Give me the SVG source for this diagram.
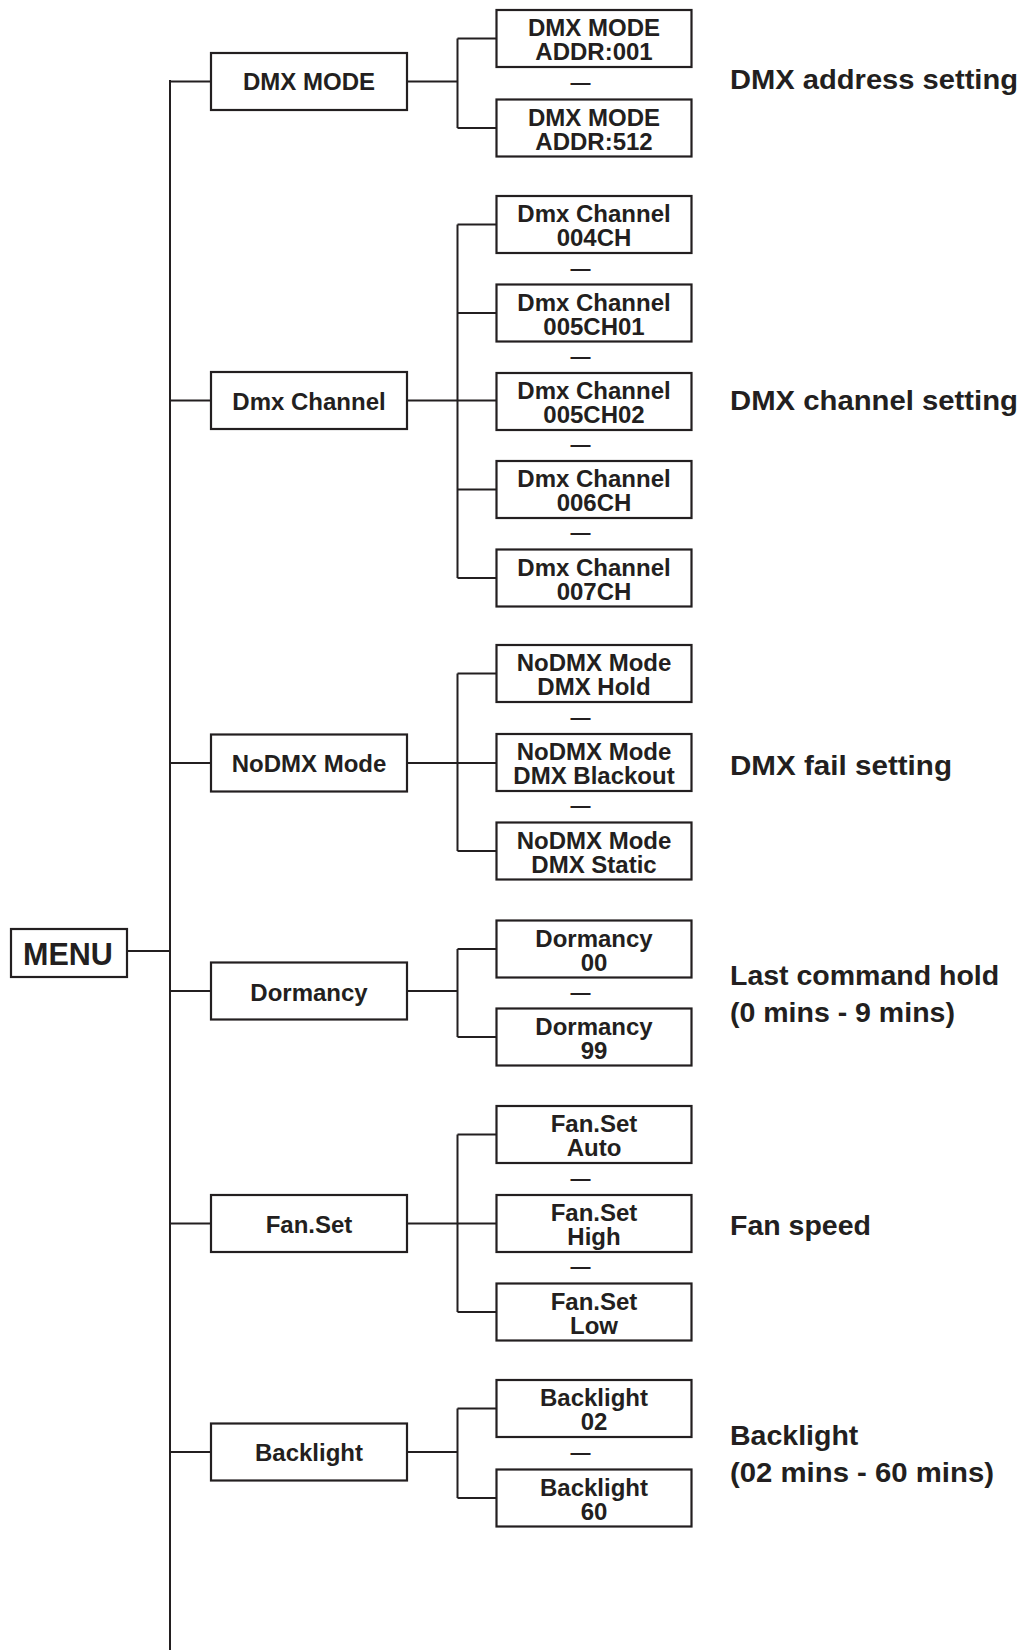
<svg xmlns="http://www.w3.org/2000/svg" width="1024" height="1650" viewBox="0 0 1024 1650">
<style>
.bx{fill:#fff;stroke:#231f20;stroke-width:2.2}
.ln{fill:none;stroke:#231f20;stroke-width:2}
text{font-family:"Liberation Sans",Arial,sans-serif;font-weight:bold;fill:#231f20}
.m{font-size:24px;text-anchor:middle}
.s{font-size:24px;text-anchor:middle}
.d{font-size:20px;text-anchor:middle}
.r{font-size:28.5px}
</style>
<rect width="1024" height="1650" fill="#fff"/>
<g id="connectors" class="ln">
<path d="M170 80V1650"/>
<path d="M127 951H170"/>
<path d="M170 81.5H211M407 81.5H457.5M457.5 38.5V128M457.5 38.5H496.5M457.5 128H496.5"/>
<path d="M170 400.5H211M407 400.5H496.5M457.5 224.5V578M457.5 224.5H496.5M457.5 313H496.5M457.5 489.5H496.5M457.5 578H496.5"/>
<path d="M170 763H211M407 763H496.5M457.5 673.5V851M457.5 673.5H496.5M457.5 851H496.5"/>
<path d="M170 991H211M407 991H457.5M457.5 949V1037M457.5 949H496.5M457.5 1037H496.5"/>
<path d="M170 1223.5H211M407 1223.5H496.5M457.5 1134.5V1312M457.5 1134.5H496.5M457.5 1312H496.5"/>
<path d="M170 1452H211M407 1452H457.5M457.5 1408.5V1498M457.5 1408.5H496.5M457.5 1498H496.5"/>
</g>
<g id="menu"><rect class="bx" x="11" y="929" width="116" height="48" stroke-width="2.6"/><text x="68" y="964.5" font-size="30.5" text-anchor="middle">MENU</text></g>

<g id="dmxmode"><rect class="bx" x="211" y="53" width="196" height="57"/><text class="m" x="309" y="90">DMX MODE</text></g>
<g id="dmxmode1"><rect class="bx" x="496.5" y="10" width="195" height="57"/><text class="s" x="594" y="36">DMX MODE</text><text class="s" x="594" y="60">ADDR:001</text></g>
<text class="d" x="580.5" y="88.5">—</text>
<g id="dmxmode2"><rect class="bx" x="496.5" y="99.5" width="195" height="57"/><text class="s" x="594" y="125.5">DMX MODE</text><text class="s" x="594" y="149.5">ADDR:512</text></g>
<text class="r" x="730" y="89" textLength="288" lengthAdjust="spacingAndGlyphs">DMX address setting</text>

<g id="dmxch"><rect class="bx" x="211" y="372" width="196" height="57"/><text class="m" x="309" y="409.5">Dmx Channel</text></g>
<g id="ch1"><rect class="bx" x="496.5" y="196" width="195" height="57"/><text class="s" x="594" y="222">Dmx Channel</text><text class="s" x="594" y="246">004CH</text></g>
<text class="d" x="580.5" y="274.5">—</text>
<g id="ch2"><rect class="bx" x="496.5" y="284.5" width="195" height="57"/><text class="s" x="594" y="310.5">Dmx Channel</text><text class="s" x="594" y="334.5">005CH01</text></g>
<text class="d" x="580.5" y="362.5">—</text>
<g id="ch3"><rect class="bx" x="496.5" y="373" width="195" height="57"/><text class="s" x="594" y="399">Dmx Channel</text><text class="s" x="594" y="423">005CH02</text></g>
<text class="d" x="580.5" y="450.5">—</text>
<g id="ch4"><rect class="bx" x="496.5" y="461" width="195" height="57"/><text class="s" x="594" y="487">Dmx Channel</text><text class="s" x="594" y="511">006CH</text></g>
<text class="d" x="580.5" y="539">—</text>
<g id="ch5"><rect class="bx" x="496.5" y="549.5" width="195" height="57"/><text class="s" x="594" y="575.5">Dmx Channel</text><text class="s" x="594" y="599.5">007CH</text></g>
<text class="r" x="730" y="409.5" textLength="288" lengthAdjust="spacingAndGlyphs">DMX channel setting</text>

<g id="nodmx"><rect class="bx" x="211" y="734.5" width="196" height="57"/><text class="m" x="309" y="772">NoDMX Mode</text></g>
<g id="nd1"><rect class="bx" x="496.5" y="645" width="195" height="57"/><text class="s" x="594" y="671">NoDMX Mode</text><text class="s" x="594" y="695">DMX Hold</text></g>
<text class="d" x="580.5" y="723.5">—</text>
<g id="nd2"><rect class="bx" x="496.5" y="734" width="195" height="57"/><text class="s" x="594" y="760">NoDMX Mode</text><text class="s" x="594" y="784">DMX Blackout</text></g>
<text class="d" x="580.5" y="812">—</text>
<g id="nd3"><rect class="bx" x="496.5" y="822.5" width="195" height="57"/><text class="s" x="594" y="848.5">NoDMX Mode</text><text class="s" x="594" y="872.5">DMX Static</text></g>
<text class="r" x="730" y="775" textLength="222" lengthAdjust="spacingAndGlyphs">DMX fail setting</text>

<g id="dormancy"><rect class="bx" x="211" y="962.5" width="196" height="57"/><text class="m" x="309" y="1000.5">Dormancy</text></g>
<g id="do1"><rect class="bx" x="496.5" y="920.5" width="195" height="57"/><text class="s" x="594" y="946.5">Dormancy</text><text class="s" x="594" y="970.5">00</text></g>
<text class="d" x="580.5" y="998.5">—</text>
<g id="do2"><rect class="bx" x="496.5" y="1008.5" width="195" height="57"/><text class="s" x="594" y="1034.5">Dormancy</text><text class="s" x="594" y="1058.5">99</text></g>
<text class="r" x="730" y="984.5">Last command hold</text>
<text class="r" x="730" y="1021.5">(0 mins - 9 mins)</text>

<g id="fanset"><rect class="bx" x="211" y="1195" width="196" height="57"/><text class="m" x="309" y="1232.5">Fan.Set</text></g>
<g id="fa1"><rect class="bx" x="496.5" y="1106" width="195" height="57"/><text class="s" x="594" y="1132">Fan.Set</text><text class="s" x="594" y="1156">Auto</text></g>
<text class="d" x="580.5" y="1184.5">—</text>
<g id="fa2"><rect class="bx" x="496.5" y="1195" width="195" height="57"/><text class="s" x="594" y="1221">Fan.Set</text><text class="s" x="594" y="1245">High</text></g>
<text class="d" x="580.5" y="1272.5">—</text>
<g id="fa3"><rect class="bx" x="496.5" y="1283.5" width="195" height="57"/><text class="s" x="594" y="1309.5">Fan.Set</text><text class="s" x="594" y="1333.5">Low</text></g>
<text class="r" x="730" y="1235">Fan speed</text>

<g id="backlight"><rect class="bx" x="211" y="1423.5" width="196" height="57"/><text class="m" x="309" y="1461">Backlight</text></g>
<g id="bl1"><rect class="bx" x="496.5" y="1380" width="195" height="57"/><text class="s" x="594" y="1406">Backlight</text><text class="s" x="594" y="1430">02</text></g>
<text class="d" x="580.5" y="1458.5">—</text>
<g id="bl2"><rect class="bx" x="496.5" y="1469.5" width="195" height="57"/><text class="s" x="594" y="1495.5">Backlight</text><text class="s" x="594" y="1519.5">60</text></g>
<text class="r" x="730" y="1445">Backlight</text>
<text class="r" x="730" y="1482" textLength="264" lengthAdjust="spacingAndGlyphs">(02 mins - 60 mins)</text>
</svg>
